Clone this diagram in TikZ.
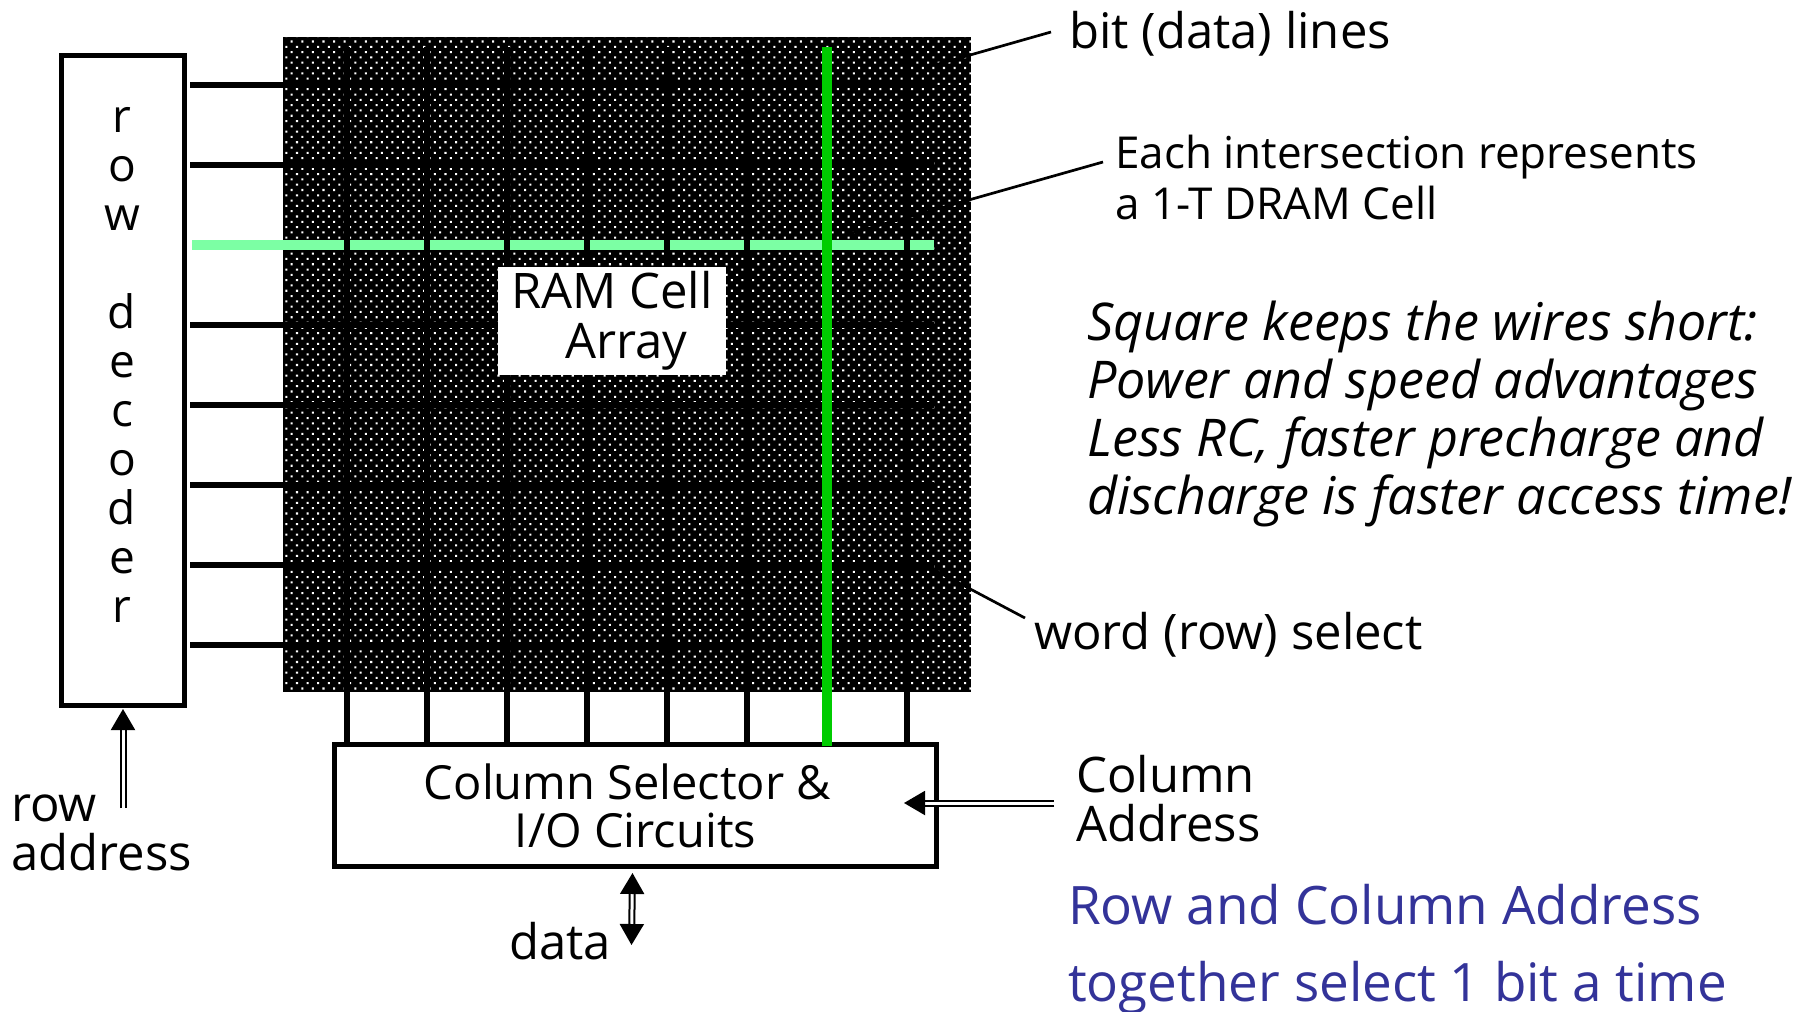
\documentclass[tikz,border=0pt]{standalone}
\usepackage{fontspec}
\setmainfont{Open Sans}
\usetikzlibrary{patterns.meta,arrows.meta}
\definecolor{rowgreen}{HTML}{7CFFA4}
\definecolor{colgreen}{HTML}{00CC00}
\definecolor{noteblue}{HTML}{333399}

\begin{document}
\begin{tikzpicture}
	[
		x=1pt, y=-1pt,
		every node/.style = {inner sep=0pt, align=left},
		box/.style = {draw, line width=5pt, inner sep=0pt, align=center},
		wire/.style = {line width=5.5pt},
		leader/.style = {line width=2.7pt},
		bus/.style = {double, line width=2pt, double distance=3pt},
		bigtip/.style = {arrows={-{Triangle[length=21pt,width=24pt]}}},
		label/.style = {anchor=west, font=\fontsize{49}{49}\selectfont},
		note/.style = {anchor=west, font=\fontsize{44}{51}\selectfont},
		slant/.style = {anchor=west, font=\fontsize{52}{58}\selectfont\itshape},
		blue/.style = {anchor=west, text=noteblue, font=\fontsize{53}{77}\selectfont},
	]

	\path[use as bounding box] (0,0) rectangle (1816,1012);

	\node (array) at (627,364.5) [minimum width=688pt, minimum height=655pt, fill=black,
		postaction={pattern={Dots[radius=1.45pt,distance=7.5pt,angle=45]}, pattern color=white}] {};
	\node (rowdec) at (123,380.5) [box, minimum width=123pt, minimum height=650pt] {};
	\node (rowtext) at (122,365) [font=\fontsize{46}{49}\selectfont, align=center] {r\\o\\w\\[49pt]d\\e\\c\\o\\d\\e\\r};
	\node (sel) at (635.5,805.5) [box, minimum width=602pt, minimum height=122pt,
		font=\fontsize{47}{48}\selectfont] {Column Selector \&\hspace*{16pt}\\I/O Circuits};

	\coordinate (r1) at (190,85);
	\coordinate (r2) at (190,165);
	\coordinate (r3) at (192,245);
	\coordinate (r4) at (190,325);
	\coordinate (r5) at (190,405);
	\coordinate (r6) at (190,485);
	\coordinate (r7) at (190,565);
	\coordinate (r8) at (190,645);
	\coordinate (rowend) at (934,0);

	\coordinate (c1) at (347,47);
	\coordinate (c2) at (427,47);
	\coordinate (c3) at (507,47);
	\coordinate (c4) at (587,47);
	\coordinate (c5) at (667,47);
	\coordinate (c6) at (747,47);
	\coordinate (c7) at (827,47);
	\coordinate (c8) at (907,47);

	\path[wire, draw=black]
	(r1) edge (r1 -| rowend)
	(r2) edge (r2 -| rowend)
	(r4) edge (r4 -| rowend)
	(r5) edge (r5 -| rowend)
	(r6) edge (r6 -| rowend)
	(r7) edge (r7 -| rowend)
	(r8) edge (r8 -| rowend);
	\draw[line width=10.5pt, rowgreen] (r3) -- (r3 -| rowend);

	\path[wire, draw=black]
	(c1) edge (c1 |- sel.north)
	(c2) edge (c2 |- sel.north)
	(c3) edge (c3 |- sel.north)
	(c4) edge (c4 |- sel.north)
	(c5) edge (c5 |- sel.north)
	(c6) edge (c6 |- sel.north)
	(c8) edge (c8 |- sel.north);
	\coordinate (c7e) at (827,746);
	\draw[line width=10.5pt, colgreen] (c7) -- (c7e);

	\node (ram) at (612,321) [fill=white, minimum width=228pt, minimum height=108pt,
		font=\fontsize{49}{50}\selectfont, align=left] {RAM Cell\\\hspace{1.1em}Array};

	\node (bit) at (1069,34) [label] {bit (data) lines};
	\node (each) at (1115,177) [note] {Each intersection represents\\a 1-T DRAM Cell};
	\node (square) at (1087,414) [slant] {Square keeps the wires short:\\Power and speed advantages\\Less RC, faster precharge and\\discharge is faster access time!};
	\node (word) at (1034,635) [label] {word (row) select};
	\node (coladdr) at (1076,799) [label] {Column\\Address};
	\node (rowaddr) at (11,833) [label] {row\\address};
	\node (data) at (509,941) [label] {data};
	\node (together) at (1068,949) [blue] {Row and Column Address\\together select 1 bit a time};

	\coordinate (bitend) at (1051,32);
	\coordinate (bitcell) at (935,65);
	\coordinate (eachend) at (1103,162);
	\coordinate (eachcell) at (845,235);
	\coordinate (wordend) at (1025,618);
	\coordinate (wordcell) at (925,565);
	\path[leader, draw=black]
	(bitend) edge (bitcell)
	(eachend) edge (eachcell)
	(wordend) edge (wordcell);

	\coordinate (rowtail) at (123,808);
	\coordinate (coltail) at (1054,803);
	\coordinate (coltip) at (904,803);
	\coordinate (datatop) at (632.5,873);
	\coordinate (databot) at (631.5,945);
	\draw[bus, bigtip] (rowtail) -- (rowdec.south |- 0,709);
	\draw[bus, bigtip] (coltail) -- (coltip);
	\draw[bus, arrows={{Triangle[length=21pt,width=24pt]}-{Triangle[length=21pt,width=24pt]}}] (datatop) -- (databot);

\end{tikzpicture}
\end{document}
